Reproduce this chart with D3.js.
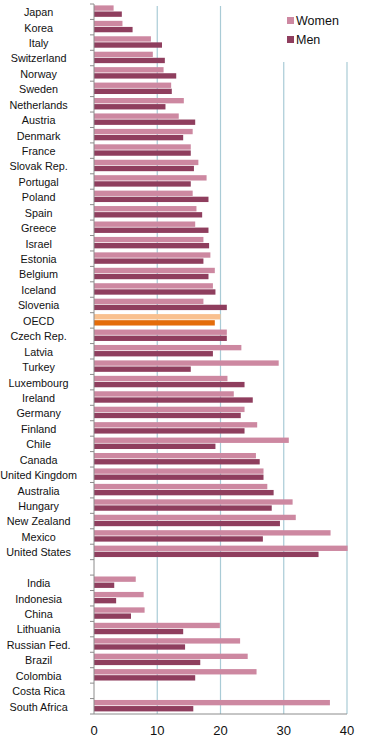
<!DOCTYPE html>
<html>
<head>
<meta charset="utf-8">
<script src="https://cdn.jsdelivr.net/npm/d3@7"></script>
<style>
  body { margin: 0; background: #fff; }
  svg { font-family: "Liberation Sans", Arial, sans-serif; }
</style>
</head>
<body>
<div id="chart"></div>
<script>
// categories (top to bottom), "" is the empty row between OECD and partner countries
var countries = ["Japan", "Korea", "Italy", "Switzerland", "Norway", "Sweden", "Netherlands", "Austria",
  "Denmark", "France", "Slovak Rep.", "Portugal", "Poland", "Spain", "Greece", "Israel", "Estonia",
  "Belgium", "Iceland", "Slovenia", "OECD", "Czech Rep.", "Latvia", "Turkey", "Luxembourg", "Ireland",
  "Germany", "Finland", "Chile", "Canada", "United Kingdom", "Australia", "Hungary", "New Zealand",
  "Mexico", "United States", "",
  "India", "Indonesia", "China", "Lithuania", "Russian Fed.", "Brazil", "Colombia", "Costa Rica", "South Africa"];

var women = [3.1, 4.5, 9.0, 9.3, 11.0, 12.2, 14.2, 13.4,
  15.6, 15.3, 16.5, 17.8, 15.6, 16.2, 16.0, 17.3, 18.4,
  19.1, 18.8, 17.3, 20.0, 21.0, 23.3, 29.2, 21.1, 22.1,
  23.8, 25.8, 30.8, 25.6, 26.8, 27.4, 31.4, 31.9,
  37.4, 40.1, null,
  6.6, 7.85, 8.0, 19.9, 23.1, 24.3, 25.7, null, 37.3];

var men = [4.4, 6.1, 10.75, 11.2, 13.0, 12.3, 11.3, 16.0,
  14.1, 15.3, 15.8, 15.3, 18.1, 17.1, 18.1, 18.2, 17.3,
  18.1, 19.2, 21.0, 19.1, 21.0, 18.8, 15.3, 23.8, 25.1,
  23.2, 23.8, 19.2, 26.2, 26.8, 28.4, 28.1, 29.4,
  26.7, 35.5, null,
  3.2, 3.5, 5.85, 14.1, 14.4, 16.8, 16.0, null, 15.7];

var series = ["Women", "Men"];
var xTicks = [0, 10, 20, 30, 40];

var colors = {Women: "#cd88a1", Men: "#8f3e5e"};
var oecdColors = {Women: "#f9c08f", Men: "#e46c0a"};

// set the dimensions and margins of the graph
var margin = {top: 4, right: 27, bottom: 31, left: 94},
    width = 374 - margin.left - margin.right,
    height = 745 - margin.top - margin.bottom;

var svg = d3.select("#chart")
  .append("svg")
    .attr("width", 374)
    .attr("height", 745)
  .append("g")
    .attr("transform", "translate(" + margin.left + "," + margin.top + ")");

// flat rows for the bars
var rows = [];
countries.forEach(function(c, i) {
  rows.push({country: c, key: "Women", value: women[i]});
  rows.push({country: c, key: "Men", value: men[i]});
});

// X axis
var x = d3.scaleLinear()
  .domain([0, 40])
  .range([0, width]);

// Y axis (one band per country, sub band per series)
var y = d3.scaleBand()
  .domain(countries)
  .range([0, height])
  .padding(0);

var ySub = d3.scaleBand()
  .domain(series)
  .range([1.4, y.bandwidth() - 2.6])
  .paddingInner(0.12);

// gridlines
svg.selectAll("gridline")
  .data(xTicks.slice(1))
  .enter()
  .append("line")
    .attr("x1", function(d) { return x(d); })
    .attr("x2", function(d) { return x(d); })
    .attr("y1", 2)
    .attr("y2", height)
    .attr("stroke", "#a9cbd6")
    .attr("stroke-width", 1.2);

// bars
svg.selectAll("bar")
  .data(rows.filter(function(d) { return d.value != null; }))
  .enter()
  .append("rect")
    .attr("x", x(0))
    .attr("y", function(d) { return y(d.country) + ySub(d.key); })
    .attr("width", function(d) { return x(d.value) - x(0); })
    .attr("height", ySub.bandwidth())
    .attr("fill", function(d) { return d.country == "OECD" ? oecdColors[d.key] : colors[d.key]; });

// left axis with ticks between categories
var yAxis = svg.append("g");
yAxis.append("line")
  .attr("x1", 0).attr("x2", 0)
  .attr("y1", 0).attr("y2", height)
  .attr("stroke", "#8c8c8c");
yAxis.selectAll("ytick")
  .data(countries.concat(["end"]))
  .enter()
  .append("line")
    .attr("x1", -4).attr("x2", 0)
    .attr("y1", function(d, i) { return i * y.step(); })
    .attr("y2", function(d, i) { return i * y.step(); })
    .attr("stroke", "#8c8c8c");

yAxis.selectAll("ylabel")
  .data(countries)
  .enter()
  .append("text")
    .attr("x", 38.6 - margin.left)
    .attr("y", function(d) { return y(d) + y.bandwidth() / 2 + 0.6; })
    .attr("dy", "0.35em")
    .attr("text-anchor", "middle")
    .style("font-size", "10.8px")
    .style("fill", "#111")
    .text(function(d) { return d; });

// bottom axis
var xAxis = svg.append("g")
  .attr("transform", "translate(0," + height + ")");
xAxis.append("line")
  .attr("x1", 0).attr("x2", width)
  .attr("stroke", "#8c8c8c");
xAxis.selectAll("xlabel")
  .data(xTicks)
  .enter()
  .append("text")
    .attr("x", function(d) { return x(d); })
    .attr("y", 16)
    .attr("dy", "0.35em")
    .attr("text-anchor", "middle")
    .style("font-size", "13px")
    .style("fill", "#111")
    .text(function(d) { return d; });

// legend, white box hides the top of the right gridlines
var legend = svg.append("g");
legend.append("rect")
  .attr("x", x(22))
  .attr("y", -margin.top)
  .attr("width", 374 - margin.left - x(22))
  .attr("height", 62)
  .attr("fill", "#fff");

legend.selectAll("legitem")
  .data(series)
  .enter()
  .append("g")
    .attr("transform", function(d, i) { return "translate(" + (287 - margin.left) + "," + (17 - margin.top + i * 19) + ")"; })
    .each(function(d) {
      d3.select(this).append("rect")
        .attr("width", 7).attr("height", 7)
        .attr("fill", colors[d]);
      d3.select(this).append("text")
        .attr("x", 9)
        .attr("y", 3.5)
        .attr("dy", "0.35em")
        .style("font-size", "12.5px")
        .style("fill", "#111")
        .text(d);
    });
</script>
</body>
</html>
